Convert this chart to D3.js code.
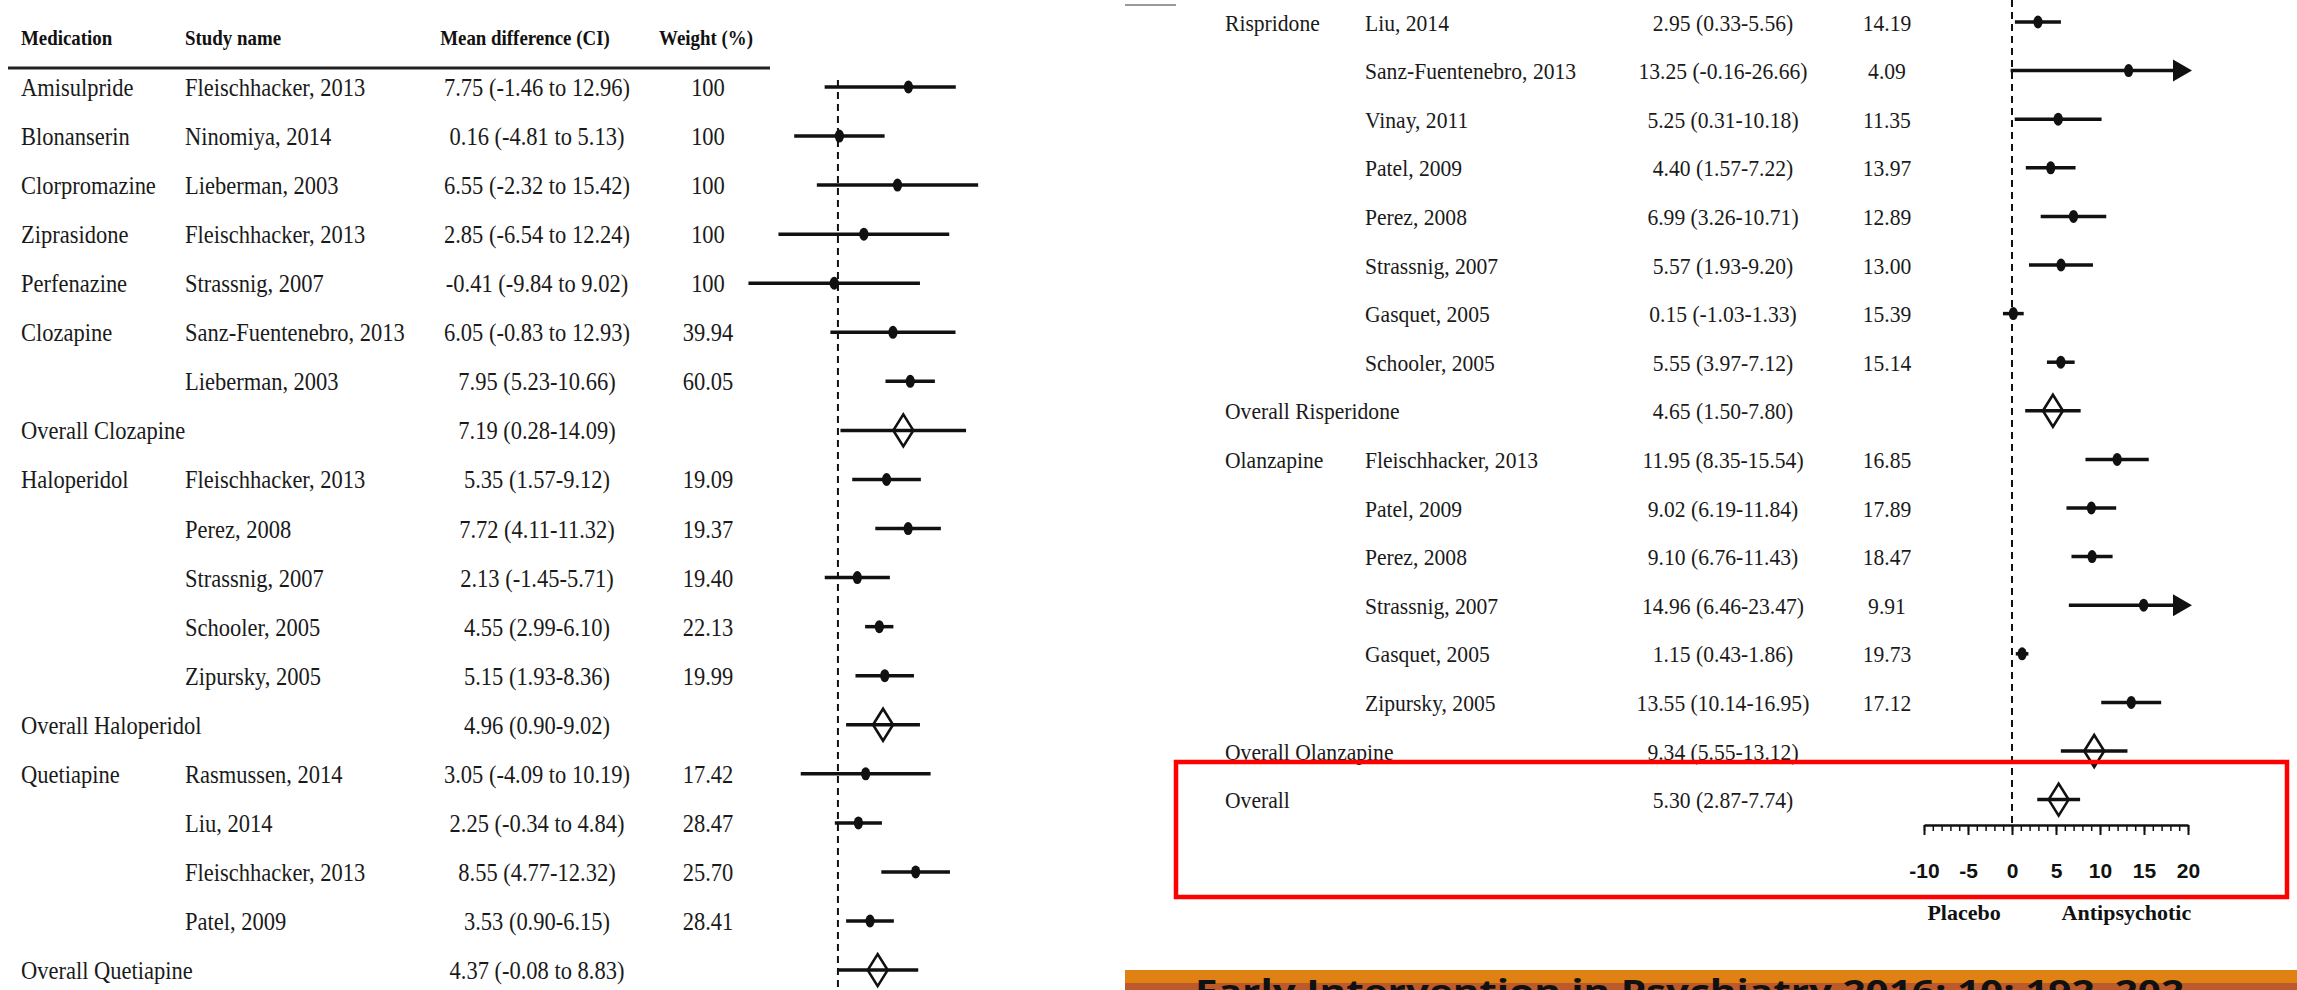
<!DOCTYPE html>
<html>
<head>
<meta charset="utf-8">
<script src="https://cdn.jsdelivr.net/npm/d3@7"></script>
<style>
  body { margin: 0; background: #fff; }
  svg { display: block; }
</style>
</head>
<body>
<svg class="forest" width="2297" height="990"></svg>
<script>
// left panel (first part of the forest plot)
var leftMedication = ["Amisulpride", "Blonanserin", "Clorpromazine", "Ziprasidone", "Perfenazine", "Clozapine", "", "Overall Clozapine",
    "Haloperidol", "", "", "", "", "Overall Haloperidol", "Quetiapine", "", "", "", "Overall Quetiapine"];
var leftStudy = ["Fleischhacker, 2013", "Ninomiya, 2014", "Lieberman, 2003", "Fleischhacker, 2013", "Strassnig, 2007", "Sanz-Fuentenebro, 2013", "Lieberman, 2003", "",
    "Fleischhacker, 2013", "Perez, 2008", "Strassnig, 2007", "Schooler, 2005", "Zipursky, 2005", "", "Rasmussen, 2014", "Liu, 2014", "Fleischhacker, 2013", "Patel, 2009", ""];
var leftCI = ["7.75 (-1.46 to 12.96)", "0.16 (-4.81 to 5.13)", "6.55 (-2.32 to 15.42)", "2.85 (-6.54 to 12.24)", "-0.41 (-9.84 to 9.02)", "6.05 (-0.83 to 12.93)",
    "7.95 (5.23-10.66)", "7.19 (0.28-14.09)", "5.35 (1.57-9.12)", "7.72 (4.11-11.32)", "2.13 (-1.45-5.71)", "4.55 (2.99-6.10)", "5.15 (1.93-8.36)",
    "4.96 (0.90-9.02)", "3.05 (-4.09 to 10.19)", "2.25 (-0.34 to 4.84)", "8.55 (4.77-12.32)", "3.53 (0.90-6.15)", "4.37 (-0.08 to 8.83)"];
var leftWeight = ["100", "100", "100", "100", "100", "39.94", "60.05", "", "19.09", "19.37", "19.40", "22.13", "19.99", "", "17.42", "28.47", "25.70", "28.41", ""];
var leftMean = [7.75, 0.16, 6.55, 2.85, -0.41, 6.05, 7.95, 7.19, 5.35, 7.72, 2.13, 4.55, 5.15, 4.96, 3.05, 2.25, 8.55, 3.53, 4.37];
var leftLow = [-1.46, -4.81, -2.32, -6.54, -9.84, -0.83, 5.23, 0.28, 1.57, 4.11, -1.45, 2.99, 1.93, 0.90, -4.09, -0.34, 4.77, 0.90, -0.08];
var leftHigh = [12.96, 5.13, 15.42, 12.24, 9.02, 12.93, 10.66, 14.09, 9.12, 11.32, 5.71, 6.10, 8.36, 9.02, 10.19, 4.84, 12.32, 6.15, 8.83];

// right panel (continuation)
var rightMedication = ["Rispridone", "", "", "", "", "", "", "", "Overall Risperidone", "Olanzapine", "", "", "", "", "", "Overall Olanzapine", "Overall"];
var rightStudy = ["Liu, 2014", "Sanz-Fuentenebro, 2013", "Vinay, 2011", "Patel, 2009", "Perez, 2008", "Strassnig, 2007", "Gasquet, 2005", "Schooler, 2005", "",
    "Fleischhacker, 2013", "Patel, 2009", "Perez, 2008", "Strassnig, 2007", "Gasquet, 2005", "Zipursky, 2005", "", ""];
var rightCI = ["2.95 (0.33-5.56)", "13.25 (-0.16-26.66)", "5.25 (0.31-10.18)", "4.40 (1.57-7.22)", "6.99 (3.26-10.71)", "5.57 (1.93-9.20)", "0.15 (-1.03-1.33)",
    "5.55 (3.97-7.12)", "4.65 (1.50-7.80)", "11.95 (8.35-15.54)", "9.02 (6.19-11.84)", "9.10 (6.76-11.43)", "14.96 (6.46-23.47)", "1.15 (0.43-1.86)",
    "13.55 (10.14-16.95)", "9.34 (5.55-13.12)", "5.30 (2.87-7.74)"];
var rightWeight = ["14.19", "4.09", "11.35", "13.97", "12.89", "13.00", "15.39", "15.14", "", "16.85", "17.89", "18.47", "9.91", "19.73", "17.12", "", ""];
var rightMean = [2.95, 13.25, 5.25, 4.40, 6.99, 5.57, 0.15, 5.55, 4.65, 11.95, 9.02, 9.10, 14.96, 1.15, 13.55, 9.34, 5.30];
var rightLow = [0.33, -0.16, 0.31, 1.57, 3.26, 1.93, -1.03, 3.97, 1.50, 8.35, 6.19, 6.76, 6.46, 0.43, 10.14, 5.55, 2.87];
var rightHigh = [5.56, 26.66, 10.18, 7.22, 10.71, 9.20, 1.33, 7.12, 7.80, 15.54, 11.84, 11.43, 23.47, 1.86, 16.95, 13.12, 7.74];

var headers = ["Medication", "Study name", "Mean difference (CI)", "Weight (%)"];
var majorTicks = [-10, -5, 0, 5, 10, 15, 20];
var minorTicks = d3.range(-10, 21, 1);
var sideLabels = ["Placebo", "Antipsychotic"];
var sourceText = "Early Intervention in Psychiatry 2016; 10: 192\u2013202";

var domain = [-10, 20];
var serif = "'Liberation Serif', 'Times New Roman', serif";
var sx = 0.9;   // texts in the figure are narrow

var svg = d3.select(".forest");

var xLeft = d3.scaleLinear().domain(domain).range([747, 1019.8]);
var yLeft = d3.scaleLinear().domain([0, leftMean.length - 1]).range([87, 87 + 18 * 49.06]);
var xRight = d3.scaleLinear().domain(domain).range([1924, 2188]);
var yRight = d3.scaleLinear().domain([0, rightMean.length - 1]).range([22, 22 + 16 * 48.6]);

function drawPanel(p) {
    var g = svg.append("g");
    var rows = d3.range(p.mean.length).map(function (i) {
        return {
            med: p.medication[i], study: p.study[i], ci: p.ci[i], weight: p.weight[i],
            mean: p.mean[i], low: p.low[i], high: p.high[i],
            overall: p.medication[i].indexOf("Overall") === 0
        };
    });

    // zero line
    g.append("line")
        .attr("x1", p.x(0)).attr("x2", p.x(0))
        .attr("y1", p.zeroTop).attr("y2", p.zeroBottom)
        .attr("stroke", "#111")
        .attr("stroke-width", 2)
        .attr("stroke-dasharray", "7,5");

    // text columns
    var t = g.append("g")
        .attr("transform", "scale(" + sx + ",1)")
        .attr("font-family", serif)
        .attr("font-size", p.fontSize)
        .attr("fill", "#1a1a1a");
    var cols = [
        { key: "med", x: p.col[0], anchor: "start" },
        { key: "study", x: p.col[1], anchor: "start" },
        { key: "ci", x: p.col[2], anchor: "middle" },
        { key: "weight", x: p.col[3], anchor: "middle" }
    ];
    cols.forEach(function (c) {
        t.selectAll(".c-" + c.key)
            .data(rows)
            .enter().append("text")
            .attr("x", c.x / sx)
            .attr("y", function (d, i) { return p.y(i); })
            .attr("dy", "0.36em")
            .attr("text-anchor", c.anchor)
            .text(function (d) { return d[c.key]; });
    });

    var marks = g.selectAll(".row")
        .data(rows)
        .enter().append("g")
        .attr("transform", function (d, i) { return "translate(0," + p.y(i) + ")"; });

    // CI lines, cut at the end of the scale
    marks.append("line")
        .attr("x1", function (d) { return p.x(Math.max(d.low, domain[0])); })
        .attr("x2", function (d) { return d.high > domain[1] ? p.x(domain[1]) - 14 : p.x(d.high); })
        .attr("stroke", "#111")
        .attr("stroke-width", 3.5);

    marks.filter(function (d) { return d.high > domain[1]; })
        .append("path")
        .attr("d", function () {
            var tip = p.x(domain[1]) + 4;
            return "M" + tip + ",0L" + (tip - 19) + ",-11L" + (tip - 19) + ",11Z";
        })
        .attr("fill", "#111");

    marks.filter(function (d) { return !d.overall; })
        .append("ellipse")
        .attr("cx", function (d) { return p.x(d.mean); })
        .attr("rx", 4.6)
        .attr("ry", 6.5)
        .attr("fill", "#111");

    marks.filter(function (d) { return d.overall; })
        .append("path")
        .attr("d", function (d) {
            var c = p.x(d.mean);
            return "M" + (c - 10) + ",0L" + c + ",-16L" + (c + 10) + ",0L" + c + ",16Z";
        })
        .attr("fill", "none")
        .attr("stroke", "#111")
        .attr("stroke-width", 2.6);
    return g;
}

drawPanel({
    medication: leftMedication, study: leftStudy, ci: leftCI, weight: leftWeight,
    mean: leftMean, low: leftLow, high: leftHigh,
    x: xLeft, y: yLeft, col: [21, 185, 537, 708], fontSize: 25,
    zeroTop: 80, zeroBottom: 990
});

drawPanel({
    medication: rightMedication, study: rightStudy, ci: rightCI, weight: rightWeight,
    mean: rightMean, low: rightLow, high: rightHigh,
    x: xRight, y: yRight, col: [1225, 1365, 1723, 1887], fontSize: 24,
    zeroTop: 0, zeroBottom: 825
});

// header of left panel
var hx = [21, 185, 525, 706];
svg.append("g")
    .attr("transform", "scale(" + sx + ",1)")
    .selectAll("text")
    .data(headers)
    .enter().append("text")
    .attr("x", function (d, i) { return hx[i] / sx; })
    .attr("y", 37)
    .attr("dy", "0.36em")
    .attr("text-anchor", function (d, i) { return i < 2 ? "start" : "middle"; })
    .attr("font-family", serif)
    .attr("font-weight", "bold")
    .attr("font-size", 21)
    .attr("fill", "#111")
    .text(function (d) { return d; });

svg.append("line")
    .attr("x1", 8).attr("x2", 770)
    .attr("y1", 68).attr("y2", 68)
    .attr("stroke", "#222")
    .attr("stroke-width", 3);

// small grey mark at top of the right panel
svg.append("line")
    .attr("x1", 1125).attr("x2", 1176)
    .attr("y1", 5).attr("y2", 5)
    .attr("stroke", "#999")
    .attr("stroke-width", 2);

// x axis of the right panel
var axisY = 825;
var minorAxis = d3.axisBottom(xRight)
    .tickValues(minorTicks)
    .tickSize(6)
    .tickSizeOuter(0)
    .tickFormat("");
var majorAxis = d3.axisBottom(xRight)
    .tickValues(majorTicks)
    .tickSize(10)
    .tickSizeOuter(0)
    .tickPadding(28)
    .tickFormat(function (d) { return String(d); });   // plain hyphen, as in the figure

svg.append("g")
    .attr("transform", "translate(0," + axisY + ")")
    .call(minorAxis)
    .call(function (g) { g.select(".domain").attr("stroke-width", 2.5).attr("stroke", "#111"); })
    .call(function (g) { g.selectAll(".tick line").attr("stroke", "#111").attr("stroke-width", 1.5); });

svg.append("g")
    .attr("transform", "translate(0," + axisY + ")")
    .call(majorAxis)
    .call(function (g) { g.select(".domain").remove(); })
    .call(function (g) { g.selectAll(".tick line").attr("stroke", "#111").attr("stroke-width", 2); })
    .call(function (g) {
        g.selectAll(".tick text")
            .attr("font-family", "'Liberation Sans Narrow', 'Liberation Sans', Arial, sans-serif")
            .attr("font-weight", "bold")
            .attr("font-size", 21)
            .attr("fill", "#111");
    });

svg.selectAll(".side")
    .data(sideLabels)
    .enter().append("text")
    .attr("x", function (d, i) { return i === 0 ? xRight(-5.45) : xRight(13); })
    .attr("y", 912)
    .attr("dy", "0.36em")
    .attr("text-anchor", "middle")
    .attr("font-family", serif)
    .attr("font-weight", "bold")
    .attr("font-size", 22)
    .attr("fill", "#111")
    .text(function (d) { return d; });

// highlight box
svg.append("rect")
    .attr("x", 1176).attr("y", 762)
    .attr("width", 1111).attr("height", 135)
    .attr("fill", "none")
    .attr("stroke", "#ff0000")
    .attr("stroke-width", 4.5);

// source banner, cut by the bottom edge as in the original
svg.append("rect")
    .attr("x", 1125).attr("y", 970)
    .attr("width", 1172).attr("height", 20)
    .attr("fill", "#e08213");
svg.append("rect")
    .attr("x", 1125).attr("y", 983)
    .attr("width", 1172).attr("height", 7)
    .attr("fill", "#bd5a2c");
svg.append("text")
    .attr("x", 1195)
    .attr("y", 1003)
    .attr("font-family", "'Open Sans', 'DejaVu Sans', sans-serif")
    .attr("font-weight", "bold")
    .attr("font-size", 32)
    .attr("textLength", 989)
    .attr("lengthAdjust", "spacingAndGlyphs")
    .attr("fill", "#111")
    .text(sourceText);
</script>
</body>
</html>
